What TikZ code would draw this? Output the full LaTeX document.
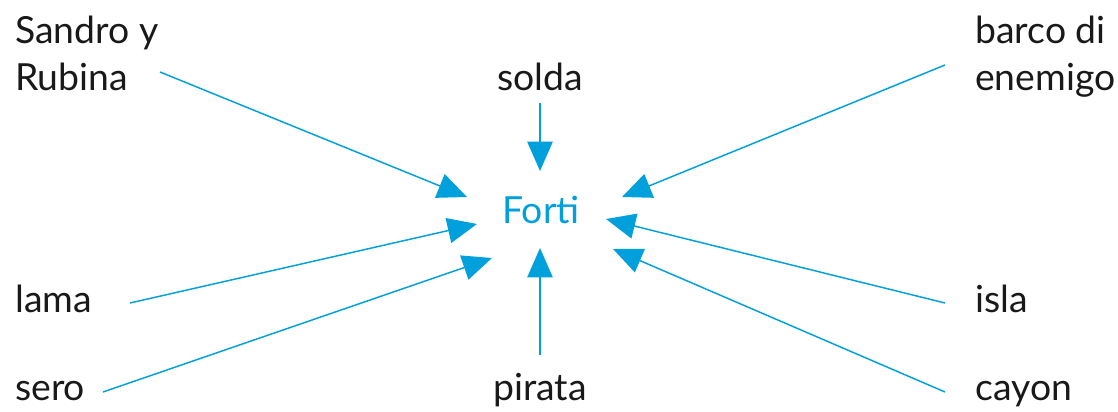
\documentclass[tikz,border=0pt]{standalone}
\usepackage{fontspec}
\setmainfont{Lato}
\definecolor{flecha}{RGB}{0,160,220}
\tikzset{
  lbl/.style={inner sep=0pt, font=\fontsize{28}{35}\selectfont, align=left, text=black!90},
  fl/.style={draw=flecha, line width=1.1pt, -{Triangle[length=22pt,width=19pt]}},
}
\usetikzlibrary{arrows.meta}
\begin{document}
\begin{tikzpicture}[x=0.75pt,y=-0.75pt]
  \useasboundingbox (0,0) rectangle (1118,411);

  % Centro
  \node[lbl, text=flecha, anchor=base] (forti) at (541,223) {Forti};

  % Etiquetas
  \node[lbl, anchor=base west] (sandro) at (15,90) {Sandro y\\Rubina};
  \node[lbl, anchor=base] (solda) at (540,90) {solda};
  \node[lbl, anchor=base west] (barco) at (975,90) {barco di\\enemigo};
  \node[lbl, anchor=base west] (lama) at (15,312) {lama};
  \node[lbl, anchor=base west] (isla) at (975,312) {isla};
  \node[lbl, anchor=base west] (sero) at (15,400) {sero};
  \node[lbl, anchor=base] (pirata) at (540,400) {pirata};
  \node[lbl, anchor=base west] (cayon) at (975,400) {cayon};

  % Puntos de salida y llegada
  \coordinate (s1) at (160,72);  \coordinate (t1) at (467,197);
  \coordinate (s2) at (540,103); \coordinate (t2) at (540,171);
  \coordinate (s3) at (945,65);  \coordinate (t3) at (622,197);
  \coordinate (s4) at (130,303); \coordinate (t4) at (477,224);
  \coordinate (s5) at (103,392); \coordinate (t5) at (492,258);
  \coordinate (s6) at (540,355); \coordinate (t6) at (540,248);
  \coordinate (s7) at (945,303); \coordinate (t7) at (606,219);
  \coordinate (s8) at (945,392); \coordinate (t8) at (613,249);

  % Flechas
  \foreach \i in {1,...,8}
    \draw[fl] (s\i) -- (t\i);
\end{tikzpicture}
\end{document}
